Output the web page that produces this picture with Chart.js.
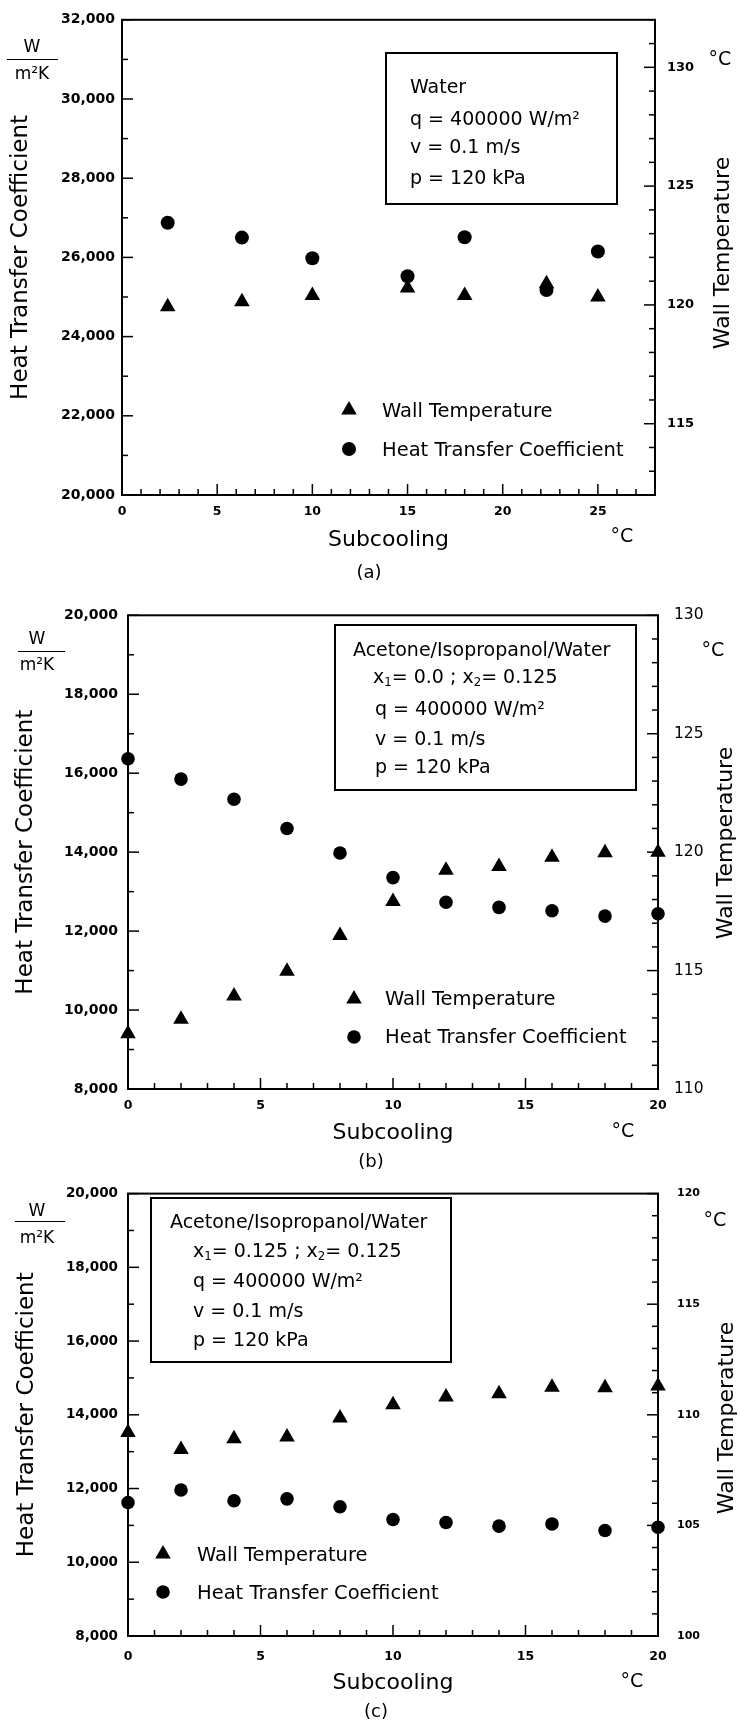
<!DOCTYPE html>
<html>
<head>
<meta charset="utf-8">
<script src="https://cdn.jsdelivr.net/npm/chart.js@4.4.1/dist/chart.umd.min.js"></script>
<style>
html, body { margin: 0; padding: 0; background: #fff; }
#page { position: relative; width: 740px; height: 1733px; overflow: hidden; font-family: "DejaVu Sans", sans-serif; color: #000; }
#page canvas { position: absolute; left: 0; }
.t { position: absolute; white-space: pre; line-height: 1; }
.t sub { font-size: 62%; vertical-align: -0.25em; }
.box { position: absolute; border: 2px solid #000; box-sizing: border-box; }
.bar { position: absolute; height: 0; border-top: 1.5px solid #000; }
</style>
</head>
<body>
<div id="page"></div>
<script>
// ---- data ----
// (a) water
const subA  = [2.4, 6.3, 10, 15, 18, 22.3, 25];
const htcA  = [26875, 26500, 25980, 25525, 26510, 25175, 26150];
const wallA = [119.92, 120.13, 120.4, 120.71, 120.4, 120.89, 120.33];
// (b) acetone/isopropanol/water, x1 = 0.0
const subB  = [0, 2, 4, 6, 8, 10, 12, 14, 16, 18, 20];
const htcB  = [16365, 15850, 15340, 14600, 13980, 13355, 12730, 12600, 12515, 12380, 12440];
const wallB = [112.33, 112.95, 113.93, 114.97, 116.48, 117.92, 119.24, 119.39, 119.78, 119.97, 120.0];
// (c) acetone/isopropanol/water, x1 = 0.125
const subC  = [0, 2, 4, 6, 8, 10, 12, 14, 16, 18, 20];
const htcC  = [11620, 11960, 11670, 11720, 11505, 11160, 11080, 10980, 11040, 10860, 10950];
const wallC = [109.2, 108.43, 108.92, 109.0, 109.85, 110.45, 110.8, 110.95, 111.25, 111.22, 111.3];

// labelled ticks
const xLabA    = [0, 5, 10, 15, 20, 25];
const xLabBC   = [0, 5, 10, 15, 20];
const htcLabA  = [20000, 22000, 24000, 26000, 28000, 30000, 32000];
const htcLabBC = [8000, 10000, 12000, 14000, 16000, 18000, 20000];
const wallLabA = [115, 120, 125, 130];
const wallLabB = [110, 115, 120, 125, 130];
const wallLabC = [100, 105, 110, 115, 120];

Chart.defaults.font.family = '"DejaVu Sans", sans-serif';
Chart.defaults.color = '#000';

const page = document.getElementById('page');
const FONT = '"DejaVu Sans", sans-serif';

// frame + inward ticks, drawn before the points
const innerFrame = {
  id: 'innerFrame',
  beforeDatasetsDraw(chart, args, opts) {
    const { ctx, chartArea: a } = chart;
    ctx.save();
    ctx.strokeStyle = '#000';
    ctx.lineWidth = 2;
    ctx.strokeRect(a.left, a.top, a.right - a.left, a.bottom - a.top);
    ctx.lineWidth = 1.5;
    const draw = (scale, edge) => {
      scale.ticks.forEach(t => {
        const p = scale.getPixelForValue(t.value);
        const len = t.label !== '' ? opts.major : opts.minor;
        ctx.beginPath();
        if (edge === 'bottom') { ctx.moveTo(p, a.bottom); ctx.lineTo(p, a.bottom - len); }
        else if (edge === 'left') { ctx.moveTo(a.left, p); ctx.lineTo(a.left + len, p); }
        else { ctx.moveTo(a.right, p); ctx.lineTo(a.right - len, p); }
        ctx.stroke();
      });
    };
    draw(chart.scales.x, 'bottom');
    draw(chart.scales.y, 'left');
    draw(chart.scales.y1, 'right');
    ctx.restore();
  }
};

// legend symbols inside the plot
const keyMarks = {
  id: 'keyMarks',
  afterDraw(chart, args, opts) {
    const ctx = chart.ctx;
    ctx.save();
    ctx.fillStyle = '#000';
    opts.items.forEach(m => {
      ctx.beginPath();
      if (m.shape === 'triangle') {
        const s = Math.sin(Math.PI / 3) * m.r;
        ctx.moveTo(m.x, m.y - m.r);
        ctx.lineTo(m.x + s, m.y + m.r / 2);
        ctx.lineTo(m.x - s, m.y + m.r / 2);
        ctx.closePath();
      } else {
        ctx.arc(m.x, m.y, m.r, 0, Math.PI * 2);
      }
      ctx.fill();
    });
    ctx.restore();
  }
};

function put(html, x, y, size, opt) {
  opt = opt || {};
  const d = document.createElement('div');
  d.className = 't';
  d.innerHTML = html;
  d.style.left = x + 'px';
  d.style.top = y + 'px';
  d.style.fontSize = size + 'px';
  if (opt.weight) d.style.fontWeight = opt.weight;
  let tf = opt.left ? 'translate(0,-50%)' : 'translate(-50%,-50%)';
  if (opt.rot) tf += ' rotate(' + opt.rot + 'deg)';
  d.style.transform = tf;
  page.appendChild(d);
}

function makePanel(p) {
  const cv = document.createElement('canvas');
  cv.width = 740;
  cv.height = p.height;
  cv.style.top = p.top + 'px';
  page.appendChild(cv);

  const lab = (arr, fmt) => v => arr.includes(v) ? fmt(v) : '';
  const pts = (xs, ys) => xs.map((x, i) => ({ x: x, y: ys[i] }));

  new Chart(cv, {
    type: 'scatter',
    data: {
      datasets: [
        { label: 'Heat Transfer Coefficient', data: pts(p.sub, p.htc), yAxisID: 'y',
          pointStyle: 'circle', pointRadius: p.rCircle, backgroundColor: '#000', borderWidth: 0, clip: false },
        { label: 'Wall Temperature', data: pts(p.sub, p.wall), yAxisID: 'y1',
          pointStyle: 'triangle', pointRadius: p.rTri, backgroundColor: '#000', borderWidth: 0, clip: false }
      ]
    },
    options: {
      responsive: false,
      animation: false,
      events: [],
      layout: { padding: { top: p.plot.t - p.top, left: 0, right: 0, bottom: 0 } },
      plugins: {
        legend: { display: false },
        tooltip: { enabled: false },
        innerFrame: { major: 11, minor: 6 },
        keyMarks: { items: p.marks.map(m => ({ shape: m.shape, x: m.x, y: m.y - p.top, r: m.r })) }
      },
      scales: {
        x: {
          type: 'linear', position: 'bottom', min: p.xMin, max: p.xMax,
          grid: { display: false, drawTicks: false }, border: { display: false },
          ticks: { stepSize: 1, autoSkip: false, maxRotation: 0, padding: p.xPad,
                   font: { family: FONT, size: 12.5, weight: 'bold' },
                   callback: lab(p.xLabels, v => String(v)) },
          title: { display: true, text: 'Subcooling', font: { family: FONT, size: 22 },
                   padding: { top: 0, bottom: p.xTitlePad } },
          afterFit: s => { s.height = p.top + p.height - p.plot.b; }
        },
        y: {
          type: 'linear', position: 'left', min: p.yMin, max: p.yMax,
          grid: { display: false, drawTicks: false }, border: { display: false },
          ticks: { stepSize: 1000, autoSkip: false, padding: p.yPad,
                   font: { family: FONT, size: p.yFont, weight: 'bold' },
                   callback: lab(p.yLabels, v => v.toLocaleString('en-US')) },
          title: { display: true, text: 'Heat Transfer Coefficient', font: { family: FONT, size: 23 },
                   padding: { top: p.yTitlePad, bottom: 0 } },
          afterFit: s => { s.width = p.plot.l; }
        },
        y1: {
          type: 'linear', position: 'right', min: p.y1Min, max: p.y1Max,
          grid: { display: false, drawTicks: false }, border: { display: false },
          ticks: { stepSize: 1, autoSkip: false, padding: p.y1Pad,
                   font: { family: FONT, size: p.y1Font, weight: p.y1Weight },
                   callback: lab(p.y1Labels, v => String(v)) },
          afterFit: s => { s.width = 740 - p.plot.r; }
        }
      }
    },
    plugins: [innerFrame, keyMarks]
  });
}

// ---- panel (a) ----
makePanel({
  top: 0, height: 590, plot: { l: 122, r: 655, t: 13.5, b: 495 },
  sub: subA, htc: htcA, wall: wallA,
  xMin: 0, xMax: 28, xLabels: xLabA, xPad: 9, xTitlePad: 37,
  yMin: 20000, yMax: 32000, yLabels: htcLabA, yFont: 14, yPad: 7, yTitlePad: 7,
  y1Min: 112, y1Max: 132, y1Labels: wallLabA, y1Font: 13, y1Weight: 'bold', y1Pad: 12,
  rCircle: 7, rTri: 9,
  marks: [{ shape: 'triangle', x: 349, y: 410, r: 9 }, { shape: 'circle', x: 349, y: 449, r: 7 }]
});

// ---- panel (b) ----
makePanel({
  top: 590, height: 578, plot: { l: 128, r: 658, t: 599, b: 1089 },
  sub: subB, htc: htcB, wall: wallB,
  xMin: 0, xMax: 20, xLabels: xLabBC, xPad: 9, xTitlePad: 22,
  yMin: 8000, yMax: 20000, yLabels: htcLabBC, yFont: 14, yPad: 10, yTitlePad: 12,
  y1Min: 110, y1Max: 130, y1Labels: wallLabB, y1Font: 15.5, y1Weight: 'normal', y1Pad: 16,
  rCircle: 6.8, rTri: 9,
  marks: [{ shape: 'triangle', x: 354, y: 999, r: 9 }, { shape: 'circle', x: 354, y: 1037, r: 6.8 }]
});

// ---- panel (c) ----
makePanel({
  top: 1168, height: 565, plot: { l: 128, r: 658, t: 1176, b: 1636 },
  sub: subC, htc: htcC, wall: wallC,
  xMin: 0, xMax: 20, xLabels: xLabBC, xPad: 13, xTitlePad: 37,
  yMin: 8000, yMax: 20000, yLabels: htcLabBC, yFont: 13.5, yPad: 10, yTitlePad: 13,
  y1Min: 100, y1Max: 120, y1Labels: wallLabC, y1Font: 11, y1Weight: 'bold', y1Pad: 19,
  rCircle: 6.8, rTri: 9,
  marks: [{ shape: 'triangle', x: 163, y: 1554, r: 9 }, { shape: 'circle', x: 163, y: 1592, r: 6.8 }]
});

// ---- text around the plots ----
function units(x, yW, yBar, yM, x0, x1) {
  put('W', x, yW, 17);
  const b = document.createElement('div');
  b.className = 'bar';
  b.style.left = x0 + 'px'; b.style.width = (x1 - x0) + 'px'; b.style.top = yBar + 'px';
  page.appendChild(b);
  put('m²K', x, yM, 17);
}
units(32, 46, 59, 73, 7, 58);
units(37, 638, 651, 664, 18, 65);
units(37, 1210, 1221, 1237, 15, 65);

put('Wall Temperature', 722, 253, 22, { rot: -90 });
put('Wall Temperature', 725, 843, 22, { rot: -90 });
put('Wall Temperature', 726, 1418, 22, { rot: -90 });

put('°C', 720, 58, 19);
put('°C', 713, 649, 19);
put('°C', 715, 1219, 19);
put('°C', 622, 535, 19);
put('°C', 623, 1130, 19);
put('°C', 632, 1680, 19);

put('(a)', 369, 572, 18);
put('(b)', 371, 1161, 18);
put('(c)', 376, 1711, 18);

function box(l, t, w, h, lines) {
  const d = document.createElement('div');
  d.className = 'box';
  d.style.left = l + 'px'; d.style.top = t + 'px';
  d.style.width = w + 'px'; d.style.height = h + 'px';
  page.appendChild(d);
  lines.forEach(r => put(r[0], r[2], r[1], 19, { left: true }));
}
box(385, 52, 233, 153, [
  ['Water', 86, 410],
  ['q = 400000 W/m²', 118, 410],
  ['v = 0.1 m/s', 146, 410],
  ['p = 120 kPa', 177, 410]
]);
box(334, 624, 303, 167, [
  ['Acetone/Isopropanol/Water', 649, 353],
  ['x<sub>1</sub>= 0.0 ; x<sub>2</sub>= 0.125', 678, 373],
  ['q = 400000 W/m²', 708, 375],
  ['v = 0.1 m/s', 738, 375],
  ['p = 120 kPa', 766, 375]
]);
box(150, 1197, 302, 166, [
  ['Acetone/Isopropanol/Water', 1221, 170],
  ['x<sub>1</sub>= 0.125 ; x<sub>2</sub>= 0.125', 1252, 193],
  ['q = 400000 W/m²', 1280, 193],
  ['v = 0.1 m/s', 1310, 193],
  ['p = 120 kPa', 1339, 193]
]);

// legend texts
put('Wall Temperature', 382, 411, 19.5, { left: true });
put('Heat Transfer Coefficient', 382, 450, 19.5, { left: true });
put('Wall Temperature', 385, 999, 19.5, { left: true });
put('Heat Transfer Coefficient', 385, 1037, 19.5, { left: true });
put('Wall Temperature', 197, 1555, 19.5, { left: true });
put('Heat Transfer Coefficient', 197, 1593, 19.5, { left: true });
</script>
</body>
</html>
